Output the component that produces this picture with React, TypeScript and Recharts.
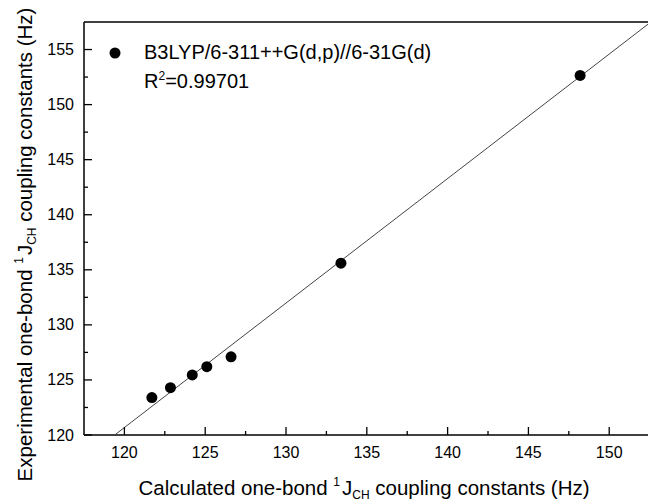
import React from 'react';
import { ScatterChart, Scatter, XAxis, YAxis, Legend, ReferenceLine } from 'recharts';

const calculated = [121.7, 122.85, 124.2, 125.1, 126.6, 133.4, 148.2];
const experimental = [123.4, 124.3, 125.45, 126.2, 127.1, 135.6, 152.65];
const fitX = [119.4, 152.4];
const fitY = [120.0, 157.3];
const xDomain = [117.5, 152.4];
const yDomain = [120, 157.5];
const xTicks = [120, 122.5, 125, 127.5, 130, 132.5, 135, 137.5, 140, 142.5, 145, 147.5, 150];
const yTicks = [120, 122.5, 125, 127.5, 130, 132.5, 135, 137.5, 140, 142.5, 145, 147.5, 150, 152.5, 155];
const seriesName = 'B3LYP/6-311++G(d,p)//6-31G(d)';
const rSquared = '0.99701';

const points = calculated.map((x, i) => ({ x, y: experimental[i] }));
const fitLine = fitX.map((x, i) => ({ x, y: fitY[i] }));

const FONT = 'Liberation Sans, Arial, Helvetica, sans-serif';

const isMajor = (v: number) => Math.abs(v % 5) < 1e-6;

const XTick = (props: any) => {
  const { x, y, payload } = props;
  const v = payload.value;
  const major = isMajor(v);
  return (
    <g>
      <line x1={x} y1={y} x2={x} y2={y - (major ? 8 : 4)} stroke="#000" strokeWidth={1.3} />
      {major && (
        <text x={x} y={y + 23} textAnchor="middle" fontSize={16} fontFamily={FONT} fill="#000">
          {v}
        </text>
      )}
    </g>
  );
};

const YTick = (props: any) => {
  const { x, y, payload } = props;
  const v = payload.value;
  const major = isMajor(v);
  return (
    <g>
      <line x1={x} y1={y} x2={x + (major ? 8 : 4)} y2={y} stroke="#000" strokeWidth={1.3} />
      {major && (
        <text x={x - 10} y={y + 5.5} textAnchor="end" fontSize={16} fontFamily={FONT} fill="#000">
          {v}
        </text>
      )}
    </g>
  );
};

const XTitle = (props: any) => {
  const vb = props.viewBox;
  const cx = vb.x + vb.width / 2 - 2;
  const y = vb.y + 60;
  return (
    <text x={cx} y={y} textAnchor="middle" fontSize={20.5} fontFamily={FONT} fill="#000">
      <tspan>Calculated one-bond </tspan>
      <tspan fontSize={12} dy={-9}>1</tspan>
      <tspan dx={2} dy={9}>J</tspan>
      <tspan fontSize={12} dy={4}>CH</tspan>
      <tspan dy={-4}> coupling constants (Hz)</tspan>
    </text>
  );
};

const YTitle = (props: any) => {
  const vb = props.viewBox;
  const x = vb.x - 22;
  const cy = vb.y + vb.height / 2 + 16;
  return (
    <text
      x={x}
      y={cy}
      textAnchor="middle"
      fontSize={20.5}
      fontFamily={FONT}
      fill="#000"
      transform={`rotate(-90 ${x} ${cy})`}
    >
      <tspan>Experimental one-bond </tspan>
      <tspan fontSize={12} dy={-9}>1</tspan>
      <tspan dx={2} dy={9}>J</tspan>
      <tspan fontSize={12} dy={4}>CH</tspan>
      <tspan dy={-4}> coupling constants (Hz)</tspan>
    </text>
  );
};

const LegendBox = () => (
  <div style={{ fontFamily: FONT, fontSize: 20, color: '#000', lineHeight: '29px' }}>
    <div style={{ display: 'flex', alignItems: 'center' }}>
      <svg width={30} height={29} style={{ display: 'block' }}>
        <circle cx={15} cy={15} r={5.5} fill="#000" />
      </svg>
      <span style={{ marginLeft: 14 }}>{seriesName}</span>
    </div>
    <div style={{ marginLeft: 44 }}>
      R<sup style={{ fontSize: 12, verticalAlign: 'super', lineHeight: 0 }}>2</sup>={rSquared}
    </div>
  </div>
);

const Dot = (props: any) => <circle cx={props.cx} cy={props.cy} r={5.5} fill="#000" />;
const NoDot = () => null;

export default function App() {
  return (
    <div style={{ position: 'absolute', left: 0, top: 0, width: 648, height: 502, background: '#fff' }}>
      <ScatterChart width={648} height={502} margin={{ top: 22, right: 0, bottom: 37, left: 54 }}>
        <XAxis
          type="number"
          dataKey="x"
          domain={xDomain}
          ticks={xTicks}
          interval={0}
          height={30}
          tickSize={0}
          tickMargin={0}
          tickLine={false}
          tick={<XTick />}
          axisLine={{ stroke: '#000', strokeWidth: 1.5 }}
          allowDataOverflow
          label={<XTitle />}
        />
        <YAxis
          type="number"
          dataKey="y"
          domain={yDomain}
          ticks={yTicks}
          interval={0}
          width={30}
          tickSize={0}
          tickMargin={0}
          tickLine={false}
          tick={<YTick />}
          axisLine={{ stroke: '#000', strokeWidth: 1.5 }}
          allowDataOverflow
          label={<YTitle />}
        />
        <ReferenceLine y={yDomain[1]} stroke="#000" strokeWidth={1.5} ifOverflow="extendDomain" />
        <Legend
          layout="horizontal"
          verticalAlign="middle"
          align="center"
          wrapperStyle={{ position: 'absolute', left: 100, top: 38, width: 400 }}
          content={<LegendBox />}
        />
        <Scatter
          name="fit"
          data={fitLine}
          line={{ stroke: '#444', strokeWidth: 1 }}
          shape={<NoDot />}
          isAnimationActive={false}
          legendType="none"
        />
        <Scatter name={seriesName} data={points} fill="#000" shape={<Dot />} isAnimationActive={false} />
      </ScatterChart>
    </div>
  );
}
